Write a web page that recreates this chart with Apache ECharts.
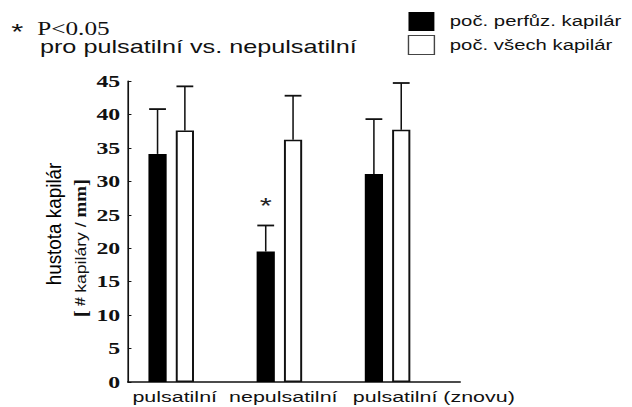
<!DOCTYPE html>
<html>
<head>
<meta charset="utf-8">
<script src="https://cdn.jsdelivr.net/npm/echarts@6/dist/echarts.min.js"></script>
<style>
  html, body { margin: 0; padding: 0; background: #fff; overflow: hidden; }
  #chart { height: 407px; transform-origin: 0 0; }
</style>
</head>
<body>
<div id="chart"></div>
<script>
// Capillary density per perfusion mode (mean and SD, capillaries / mm)
const categories = ['pulsatilní', 'nepulsatilní', 'pulsatilní (znovu)'];
const seriesNames = ['poč. perfůz. kapilár', 'poč. všech kapilár'];
const perfusedMean = [34.1, 19.5, 31.1];
const perfusedSD = [6.7, 3.9, 8.2];
const totalMean = [37.6, 36.2, 37.7];
const totalSD = [6.6, 6.6, 7.0];
const significant = [false, true, false];   // * P<0.05 vs. pulsatile
const yMin = 0, yMax = 45, yStep = 5;

// The whole figure uses a wide typeface; the drawing is widened horizontally.
const STRETCH = 1.4013;
const chartEl = document.getElementById('chart');
chartEl.style.width = Math.round(632 / STRETCH) + 'px';
chartEl.style.transform = 'scaleX(' + STRETCH + ')';

const BAR_W = 13;
const BAR_GAP = 0.5;
const HALF_PAIR = BAR_W * (1 + BAR_GAP) / 2;
const CAP = 12;
const X_MAX = 3.07;
const groupX = i => i + 0.4;
const labelShift = [2.5, 2.8, 33];

function errorBars(means, sds, dx, flags) {
  return {
    type: 'custom',
    silent: true,
    z: 4,
    data: means.map((m, i) => [groupX(i), m, m + sds[i], flags && flags[i] ? 1 : 0]),
    encode: { x: 0, y: [1, 2] },
    renderItem(params, api) {
      const x = api.value(0);
      const base = api.coord([x, api.value(1)]);
      const top = api.coord([x, api.value(2)]);
      const cx = base[0] + dx;
      const children = [
        { type: 'line', shape: { x1: cx, y1: base[1], x2: cx, y2: top[1] },
          style: { stroke: '#111', lineWidth: 1.1 } },
        { type: 'line', shape: { x1: cx - CAP / 2, y1: top[1], x2: cx + CAP / 2, y2: top[1] },
          style: { stroke: '#111', lineWidth: 1.8 } }
      ];
      if (api.value(3)) {
        children.push({ type: 'text', x: cx, y: top[1] - 20,
          style: { text: '*', fill: '#222', font: '22px "Liberation Sans"',
                   align: 'center', verticalAlign: 'middle' } });
      }
      return { type: 'group', children };
    }
  };
}

const chart = echarts.init(chartEl, null, { renderer: 'svg' });

chart.setOption({
  animation: false,
  backgroundColor: '#fff',
  title: [
    { text: '{s|*}{p|P<0.05}', left: 8, top: 14, padding: 0,
      textStyle: { rich: {
        s: { fontFamily: 'Liberation Sans', fontSize: 22, fontWeight: 'normal', color: '#111', padding: [7, 10, 0, 0] },
        p: { fontFamily: 'Liberation Serif', fontSize: 18, fontWeight: 'normal', color: '#111' }
      } } },
    { text: 'pro pulsatilní vs. nepulsatilní', left: 28.5, top: 38, padding: 0,
      textStyle: { fontFamily: 'Liberation Sans', fontSize: 18, fontWeight: 'normal', color: '#111' } }
  ],
  legend: {
    orient: 'vertical',
    left: 291,
    top: 12,
    padding: 0,
    itemGap: 4,
    itemWidth: 18.5,
    itemHeight: 19,
    icon: 'rect',
    selectedMode: false,
    textStyle: { fontFamily: 'Liberation Sans', fontSize: 14.5, color: '#111', padding: [0, 0, 0, 6] },
    data: [
      { name: seriesNames[0], itemStyle: { color: '#000', borderWidth: 0 } },
      { name: seriesNames[1], itemStyle: { color: '#fff', borderColor: '#444', borderWidth: 1 } }
    ]
  },
  grid: { left: 91.3, right: 122.7, top: 81, bottom: 25, outerBoundsMode: 'none' },
  xAxis: {
    type: 'value', min: 0, max: X_MAX,
    axisLine: { show: true, lineStyle: { color: '#111', width: 1.5 } },
    axisTick: { show: false }, axisLabel: { show: false }, splitLine: { show: false }
  },
  yAxis: {
    type: 'value', min: yMin, max: yMax, interval: yStep,
    axisLine: { show: true, lineStyle: { color: '#111', width: 1.2 } },
    axisTick: { show: true, inside: true, length: 2.5, lineStyle: { color: '#111' } },
    axisLabel: { margin: 5.5, fontFamily: 'Liberation Serif', fontWeight: 'bold', fontSize: 17, color: '#111' },
    splitLine: { show: false }
  },
  series: [
    { name: seriesNames[0], type: 'bar', barWidth: BAR_W, barGap: (BAR_GAP * 100) + '%',
      itemStyle: { color: '#000' },
      data: perfusedMean.map((v, i) => [groupX(i), v]) },
    { name: seriesNames[1], type: 'bar', barWidth: BAR_W, barGap: (BAR_GAP * 100) + '%',
      itemStyle: { color: '#fff', borderColor: '#111', borderWidth: 1.4 },
      data: totalMean.map((v, i) => [groupX(i), v]) },
    errorBars(perfusedMean, perfusedSD, -HALF_PAIR, significant),
    errorBars(totalMean, totalSD, HALF_PAIR, null),
    {
      type: 'custom', silent: true,
      data: categories.map((c, i) => [groupX(i), 0, i]),
      encode: { x: 0, y: 1 },
      renderItem(params, api) {
        const idx = api.value(2);
        const p = api.coord([api.value(0), 0]);
        return { type: 'text', x: p[0] + labelShift[idx], y: p[1] + 14.5,
          style: { text: categories[idx], fill: '#111', font: '15.3px "Liberation Sans"',
                   align: 'center', verticalAlign: 'middle' } };
      }
    }
  ],
  graphic: [
    { type: 'text', x: 38.9, y: 224, rotation: Math.PI / 2, scaleX: 1.18, scaleY: 0.88,
      style: { text: 'hustota kapilár', fill: '#000', font: '16px "Liberation Sans"',
               align: 'center', verticalAlign: 'middle' } },
    { type: 'text', x: 57.1, y: 248, rotation: Math.PI / 2, scaleX: 1.26, scaleY: 0.78,
      style: {
        text: '{b|[} {h|#} {k|kapiláry / }{m|mm}{b|]}',
        align: 'center', verticalAlign: 'middle', fill: '#111',
        rich: {
          b: { font: 'bold 17px "Liberation Serif"', fill: '#111' },
          h: { font: 'bold 14px "Liberation Serif"', fill: '#111' },
          k: { font: '14px "Liberation Sans"', fill: '#111' },
          m: { font: 'bold 15px "Liberation Serif"', fill: '#111' }
        }
      } }
  ]
});
</script>
</body>
</html>
